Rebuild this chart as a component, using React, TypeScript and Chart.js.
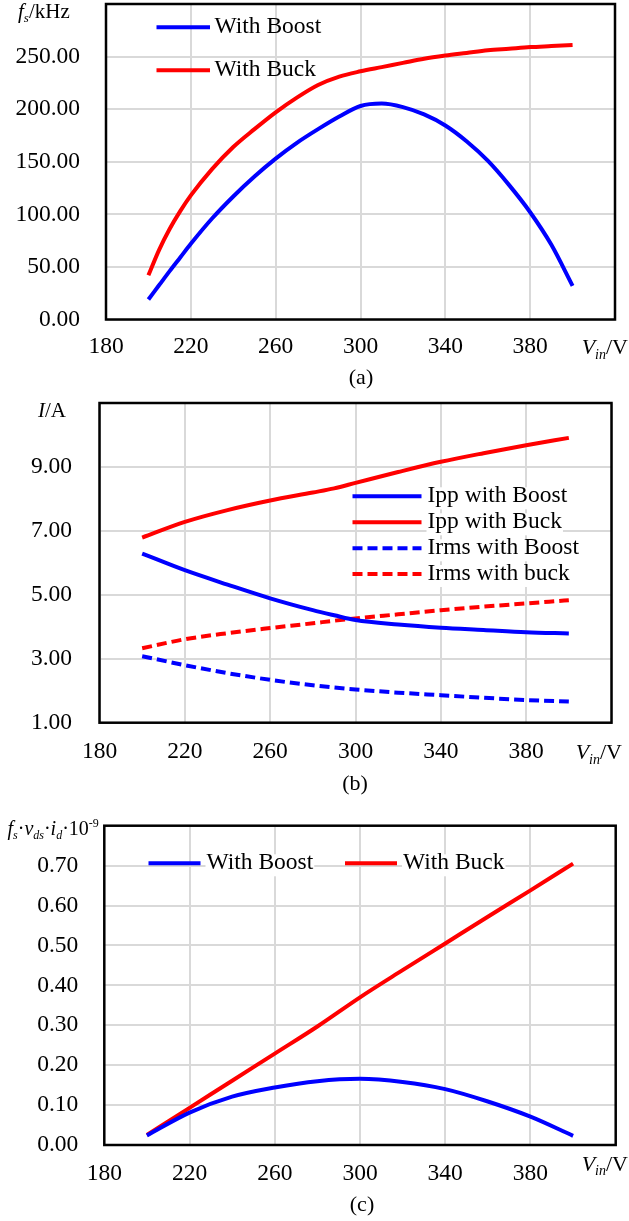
import React, { useEffect, useRef } from 'react';
import { Chart, registerables } from 'chart.js';

Chart.register(...registerables);

const SERIF = '"Liberation Serif", "Times New Roman", Times, serif';
const BLUE = '#0000ff';
const RED = '#ff0000';
const GRID = '#d9d9d9';
const W = 629;
const LINE_W = 4;
const TEXT_SIZE = 23.5;

// ---------- data: chart (a) switching frequency (kHz) ----------
const vinA = [200, 205, 210, 215, 220, 230, 240, 250, 260, 270, 280, 290, 300, 310, 320, 330, 340, 350, 360, 370, 380, 390, 400];
const fsBoost = [19, 32.5, 46, 59, 72, 96, 117, 136, 153, 168, 181, 193, 203, 205.3, 202, 195, 184.5, 169.5, 151, 128, 102, 71, 32];
const fsBuck = [42, 66, 86, 103, 118, 143, 164, 181, 197, 211, 223, 231, 236, 240, 244, 248, 251, 253.5, 256, 257.5, 259, 260, 261];

// ---------- data: chart (b) currents (A) ----------
const vinB = [200, 220, 240, 260, 280, 290, 300, 320, 340, 360, 380, 400];
const ippBoost = [6.29, 5.77, 5.32, 4.89, 4.52, 4.36, 4.21, 4.07, 3.97, 3.9, 3.83, 3.79];
const ippBuck = [6.79, 7.28, 7.65, 7.95, 8.2, 8.33, 8.5, 8.84, 9.16, 9.43, 9.68, 9.91];
const irmsBoost = [3.08, 2.8, 2.55, 2.34, 2.17, 2.1, 2.04, 1.94, 1.86, 1.78, 1.71, 1.66];
const irmsBuck = [3.33, 3.61, 3.8, 3.96, 4.11, 4.19, 4.26, 4.39, 4.52, 4.63, 4.73, 4.83];

// ---------- data: chart (c) fs·vds·id ----------
const vinC = [200, 220, 240, 260, 280, 300, 320, 340, 360, 380, 400];
const prodBoost = [0.024, 0.081, 0.121, 0.144, 0.16, 0.166, 0.158, 0.14, 0.109, 0.071, 0.023];
const prodBuck = [0.025, 0.093, 0.161, 0.229, 0.297, 0.37, 0.438, 0.505, 0.572, 0.638, 0.705];

// ---------- tick labels ----------
const xTickVals = [180, 220, 260, 300, 340, 380, 420];
const yTicksA = [0, 50, 100, 150, 200, 250, 300];
const yTicksB = [1, 3, 5, 7, 9, 11];
const yTicksC = [0, 0.1, 0.2, 0.3, 0.4, 0.5, 0.6, 0.7, 0.8];

type Run = { t: string; i?: boolean; sub?: boolean; sup?: boolean };
interface SeriesDef { label: string; x: number[]; y: number[]; color: string; dash?: number[] }
interface LegendPos { x1: number; x2: number; y: number; tx: number }
interface TextPos { runs: Run[]; x: number; y: number; size: number; align: 'left' | 'right' | 'center' }
interface Spec {
  top: number;
  height: number;
  plot: { left: number; right: number; top: number; bottom: number };
  xTicks: number[];
  yTicks: number[];
  yDigits: number;
  yPad: number;
  xPad: number;
  series: SeriesDef[];
  legend: LegendPos[];
  legendBg: boolean;
  yTitle: TextPos;
  xTitle: TextPos;
  caption: TextPos;
}

const vinRuns: Run[] = [{ t: 'V', i: true }, { t: 'in', i: true, sub: true }, { t: '/V' }];

const specA: Spec = {
  top: 0,
  height: 400,
  plot: { left: 106, right: 615, top: 4, bottom: 319.5 },
  xTicks: xTickVals,
  yTicks: yTicksA,
  yDigits: 2,
  yPad: 26,
  xPad: 16,
  series: [
    { label: 'With Boost', x: vinA, y: fsBoost, color: BLUE },
    { label: 'With Buck', x: vinA, y: fsBuck, color: RED },
  ],
  legend: [
    { x1: 156.5, x2: 210, y: 27.3, tx: 214.5 },
    { x1: 156.5, x2: 210, y: 70.3, tx: 214.5 },
  ],
  legendBg: false,
  yTitle: { runs: [{ t: 'f', i: true }, { t: 's', i: true, sub: true }, { t: '/kHz' }], x: 18, y: 17.5, size: 21, align: 'left' },
  xTitle: { runs: vinRuns, x: 628, y: 354, size: 22, align: 'right' },
  caption: { runs: [{ t: '(a)' }], x: 361, y: 384, size: 22, align: 'center' },
};

const specB: Spec = {
  top: 400,
  height: 400,
  plot: { left: 99.5, right: 611.5, top: 3, bottom: 322.7 },
  xTicks: xTickVals,
  yTicks: yTicksB,
  yDigits: 2,
  yPad: 27.5,
  xPad: 17.5,
  series: [
    { label: 'Ipp with Boost', x: vinB, y: ippBoost, color: BLUE },
    { label: 'Ipp with Buck', x: vinB, y: ippBuck, color: RED },
    { label: 'Irms with Boost', x: vinB, y: irmsBoost, color: BLUE, dash: [10, 5] },
    { label: 'Irms with buck', x: vinB, y: irmsBuck, color: RED, dash: [10, 5] },
  ],
  legend: [
    { x1: 352.5, x2: 421.5, y: 96.3, tx: 427.5 },
    { x1: 352.5, x2: 421.5, y: 122.3, tx: 427.5 },
    { x1: 352.5, x2: 421.5, y: 148.3, tx: 427.5 },
    { x1: 352.5, x2: 421.5, y: 174, tx: 427.5 },
  ],
  legendBg: true,
  yTitle: { runs: [{ t: 'I', i: true }, { t: '/A' }], x: 38, y: 17, size: 21, align: 'left' },
  xTitle: { runs: vinRuns, x: 622, y: 359, size: 22, align: 'right' },
  caption: { runs: [{ t: '(b)' }], x: 355, y: 390, size: 22, align: 'center' },
};

const specC: Spec = {
  top: 790,
  height: 431,
  plot: { left: 104.3, right: 615.7, top: 35.7, bottom: 355 },
  xTicks: xTickVals,
  yTicks: yTicksC,
  yDigits: 2,
  yPad: 26,
  xPad: 16.8,
  series: [
    { label: 'With Boost', x: vinC, y: prodBoost, color: BLUE },
    { label: 'With Buck', x: vinC, y: prodBuck, color: RED },
  ],
  legend: [
    { x1: 148.5, x2: 200.5, y: 73.3, tx: 206.5 },
    { x1: 345, x2: 397, y: 73.3, tx: 403 },
  ],
  legendBg: true,
  yTitle: {
    runs: [
      { t: 'f', i: true }, { t: 's', i: true, sub: true }, { t: '·' },
      { t: 'v', i: true }, { t: 'ds', i: true, sub: true }, { t: '·' },
      { t: 'i', i: true }, { t: 'd', i: true, sub: true }, { t: '·10' }, { t: '-9', sup: true },
    ],
    x: 7.5, y: 45, size: 20, align: 'left',
  },
  xTitle: { runs: vinRuns, x: 628, y: 380.5, size: 22, align: 'right' },
  caption: { runs: [{ t: '(c)' }], x: 362, y: 421, size: 22, align: 'center' },
};

function runFont(r: Run, size: number) {
  const s = r.sub || r.sup ? Math.round(size * 0.62) : size;
  return `${r.i ? 'italic ' : ''}${s}px ${SERIF}`;
}

function drawRuns(ctx: CanvasRenderingContext2D, tp: TextPos) {
  const { runs, x, y, size, align } = tp;
  ctx.textBaseline = 'alphabetic';
  ctx.textAlign = 'left';
  const widths = runs.map((r) => {
    ctx.font = runFont(r, size);
    return ctx.measureText(r.t).width;
  });
  const total = widths.reduce((a, b) => a + b, 0);
  let cx = align === 'left' ? x : align === 'right' ? x - total : x - total / 2;
  runs.forEach((r, k) => {
    ctx.font = runFont(r, size);
    const dy = r.sub ? size * 0.22 : r.sup ? -size * 0.42 : 0;
    ctx.fillText(r.t, cx, y + dy);
    cx += widths[k];
  });
}

function overlay(spec: Spec) {
  return {
    id: 'overlay',
    afterDraw(chart: Chart) {
      const ctx = chart.ctx;
      const a = chart.chartArea;
      ctx.save();
      ctx.setLineDash([]);
      ctx.strokeStyle = '#000';
      ctx.lineWidth = 2.5;
      ctx.strokeRect(a.left, a.top, a.right - a.left, a.bottom - a.top);

      spec.legend.forEach((p, k) => {
        const s = spec.series[k];
        ctx.font = `${TEXT_SIZE}px ${SERIF}`;
        const w = ctx.measureText(s.label).width;
        if (spec.legendBg) {
          ctx.fillStyle = '#fff';
          ctx.fillRect(p.tx - 1, p.y - 9, w + 2, 22);
        }
        ctx.strokeStyle = s.color;
        ctx.lineWidth = LINE_W;
        ctx.lineCap = 'butt';
        ctx.setLineDash(s.dash ?? []);
        ctx.beginPath();
        ctx.moveTo(p.x1, p.y);
        ctx.lineTo(p.x2, p.y);
        ctx.stroke();
        ctx.setLineDash([]);
        ctx.fillStyle = '#000';
        ctx.textBaseline = 'middle';
        ctx.textAlign = 'left';
        ctx.fillText(s.label, p.tx, p.y);
      });

      ctx.fillStyle = '#000';
      drawRuns(ctx, spec.yTitle);
      drawRuns(ctx, spec.xTitle);
      drawRuns(ctx, spec.caption);
      ctx.restore();
    },
  };
}

function makeConfig(spec: Spec): any {
  const xMin = spec.xTicks[0];
  const xMax = spec.xTicks[spec.xTicks.length - 1];
  const yMin = spec.yTicks[0];
  const yMax = spec.yTicks[spec.yTicks.length - 1];
  const tickFont = { family: SERIF, size: TEXT_SIZE, lineHeight: 1 };
  return {
    type: 'line',
    data: {
      datasets: spec.series.map((s) => ({
        label: s.label,
        data: s.x.map((x, k) => ({ x, y: s.y[k] })),
        borderColor: s.color,
        backgroundColor: s.color,
        borderWidth: LINE_W,
        borderDash: s.dash ?? [],
        borderCapStyle: 'butt',
        borderJoinStyle: 'round',
        pointRadius: 0,
        pointHoverRadius: 0,
        fill: false,
        cubicInterpolationMode: 'monotone',
      })),
    },
    options: {
      responsive: false,
      animation: false,
      devicePixelRatio: 1,
      events: [],
      layout: {
        autoPadding: false,
        padding: { left: 0, top: spec.plot.top, right: W - spec.plot.right, bottom: 0 },
      },
      plugins: {
        legend: { display: false },
        tooltip: { enabled: false },
        title: { display: false },
      },
      scales: {
        x: {
          type: 'linear',
          min: xMin,
          max: xMax,
          afterBuildTicks: (s: any) => {
            s.ticks = spec.xTicks.map((v) => ({ value: v }));
          },
          afterFit: (s: any) => {
            s.height = spec.height - spec.plot.bottom;
            s.paddingLeft = 0;
            s.paddingRight = 0;
          },
          grid: { color: GRID, lineWidth: 2, drawTicks: false },
          border: { display: false },
          ticks: {
            color: '#000',
            padding: spec.xPad,
            font: tickFont,
            maxRotation: 0,
            autoSkip: false,
            callback: (v: number) => (v === xMax ? '' : String(v)),
          },
        },
        y: {
          type: 'linear',
          min: yMin,
          max: yMax,
          afterBuildTicks: (s: any) => {
            s.ticks = spec.yTicks.map((v) => ({ value: v }));
          },
          afterFit: (s: any) => {
            s.width = spec.plot.left;
            s.paddingTop = 0;
            s.paddingBottom = 0;
          },
          grid: { color: GRID, lineWidth: 2, drawTicks: false },
          border: { display: false },
          ticks: {
            color: '#000',
            padding: spec.yPad,
            font: tickFont,
            autoSkip: false,
            callback: (v: number) => (v === yMax ? '' : Number(v).toFixed(spec.yDigits)),
          },
        },
      },
    },
    plugins: [overlay(spec)],
  };
}

function ChartPanel({ spec }: { spec: Spec }) {
  const ref = useRef<HTMLCanvasElement>(null);
  useEffect(() => {
    const chart = new Chart(ref.current as HTMLCanvasElement, makeConfig(spec));
    return () => chart.destroy();
  }, [spec]);
  return (
    <canvas
      ref={ref}
      width={W}
      height={spec.height}
      style={{ position: 'absolute', left: 0, top: spec.top, width: W, height: spec.height }}
    />
  );
}

export default function App() {
  return (
    <div style={{ position: 'absolute', left: 0, top: 0, width: W, height: 1221, background: '#fff', overflow: 'hidden' }}>
      <ChartPanel spec={specA} />
      <ChartPanel spec={specB} />
      <ChartPanel spec={specC} />
    </div>
  );
}
